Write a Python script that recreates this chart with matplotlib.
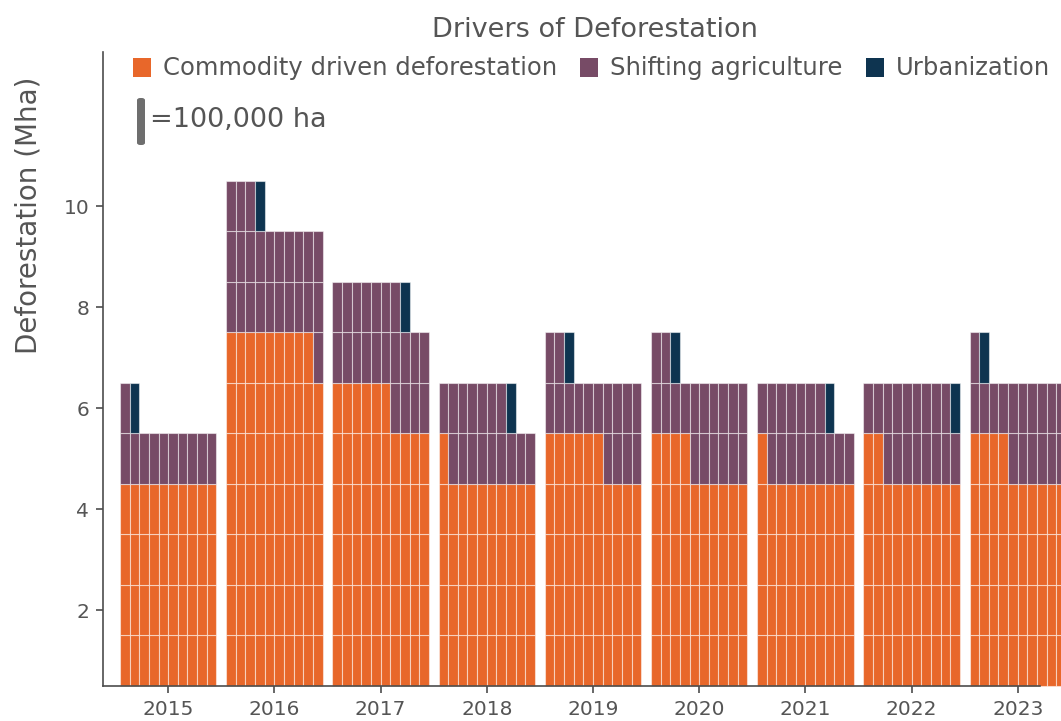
import numpy as np
import matplotlib
matplotlib.use("Agg")
import matplotlib.pyplot as plt
from matplotlib.patches import Rectangle, FancyBboxPatch

# values in Mha, one cell = 0.1 Mha (100,000 ha)
years = ["2015", "2016", "2017", "2018", "2019", "2020", "2021", "2022", "2023"]
commodity = [4.0, 6.9, 5.6, 4.1, 4.6, 4.4, 4.1, 4.2, 4.4]
shifting = [1.1, 2.4, 2.1, 1.6, 1.6, 1.8, 1.6, 1.7, 1.7]
urban = [0.1, 0.1, 0.1, 0.1, 0.1, 0.1, 0.1, 0.1, 0.1]

names = ["Commodity driven deforestation", "Shifting agriculture", "Urbanization"]
colors = ["#E8672A", "#774B66", "#0E3450"]
txt = "#555555"

W, H = 1061, 721
fig = plt.figure(figsize=(W / 100, H / 100), dpi=100)
# axes placed in pixels of the reference
ax = fig.add_axes([103 / W, (H - 686) / H, (1040 - 103) / W, (686 - 52) / H])

ncol = 10   # cells per row
gap = 11    # slots per year (10 cols + 1 gap)

for i, y in enumerate(years):
    counts = [int(round(v * 10)) for v in (commodity[i], shifting[i], urban[i])]
    k = 0
    for s, n in enumerate(counts):
        for _ in range(n):
            row = k // ncol + 1
            col = k % ncol
            ax.add_patch(Rectangle((i * gap + col, row - 0.5), 1, 1,
                                   facecolor=colors[s], edgecolor=(1, 1, 1, 0.5),
                                   linewidth=0.8, clip_on=False))
            k += 1

ax.set_xlim(-1.75, 95.3)
ax.set_ylim(0.5, 13.05)
ax.set_xticks([i * gap + 5 for i in range(len(years))])
ax.set_xticklabels(years)
ax.set_yticks([2, 4, 6, 8, 10])

for sp in ["top", "right"]:
    ax.spines[sp].set_visible(False)
for sp in ["left", "bottom"]:
    ax.spines[sp].set_color("#4d4d4d")
    ax.spines[sp].set_linewidth(1.2)
ax.tick_params(colors="#4d4d4d", labelcolor=txt, labelsize=14.5, length=5, width=1.2)
ax.tick_params(axis="x", pad=5)
ax.tick_params(axis="y", pad=5)

ax.set_ylabel("Deforestation (Mha)", fontsize=20, color=txt)
ax.yaxis.set_label_coords(-0.065, 0.743)

def px(x, y):
    return x / W, 1 - y / H

# title
fig.text(*px(595, 30), "Drivers of Deforestation", ha="center", va="center",
         fontsize=19.5, color=txt)

# legend
leg_x = [133, 580, 866]
for lx, nm, c in zip(leg_x, names, colors):
    fig.patches.append(Rectangle(px(lx, 77), 18 / W, 19 / H, facecolor=c,
                                 edgecolor="none", transform=fig.transFigure))
    fig.text(*px(lx + 30, 68), nm, ha="left", va="center", fontsize=17.5, color=txt)

# scale indicator
fig.patches.append(FancyBboxPatch(px(137, 145), 8 / W, 47 / H,
                                  boxstyle="round,pad=0,rounding_size=0.003",
                                  facecolor="#6e6e6e", edgecolor="none",
                                  transform=fig.transFigure))
fig.text(*px(150, 120), "=100,000 ha", ha="left", va="center", fontsize=19.5, color=txt)

fig.savefig("out.png", dpi=100)
